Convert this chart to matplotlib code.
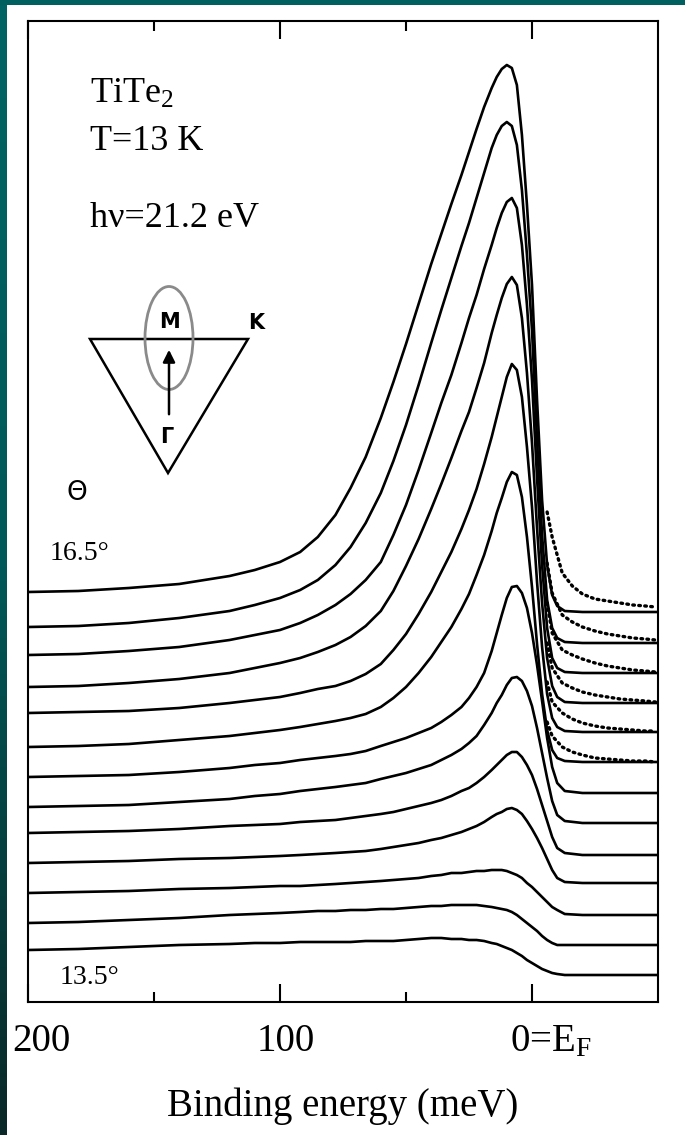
import numpy as np
import matplotlib.pyplot as plt
from matplotlib.patches import Ellipse, Polygon, Rectangle
from matplotlib.colors import LinearSegmentedColormap
from matplotlib.transforms import ScaledTranslation

plt.rcParams['font.family'] = ['Liberation Serif', 'DejaVu Serif']
plt.rcParams['mathtext.fontset'] = 'custom'
plt.rcParams['mathtext.rm'] = 'Liberation Serif'
plt.rcParams['mathtext.it'] = 'Liberation Serif:italic'

# Energia de ligacao (meV) - grade comum das curvas
energia = [200, 180, 160, 140, 120, 110, 100, 92, 85, 78,
           72, 66, 60, 55, 50, 45, 40, 36, 32, 28,
           25, 22, 19, 16, 14, 12, 10, 8, 6, 4,
           2, 0, -2, -4, -6, -8, -10, -13, -20, -35, -50]

# Altura de cada espectro acima da sua linha de base (ajuste), de 16.5 a 13.5 graus
h_16_50 = [20, 21, 24, 28, 36, 42, 50, 60, 75, 97,
           124, 155, 194, 230, 268, 308, 348, 378, 408, 437,
           460, 483, 505, 524, 535, 543, 547, 544, 527, 477,
           407, 327, 212, 112, 47, 17, 6, 1, 0, 0, 0]
h_16_25 = [16, 17, 20, 25, 32, 38, 45, 53, 63, 78,
           96, 120, 150, 182, 218, 258, 300, 333, 365, 397,
           420, 445, 470, 495, 508, 517, 521, 517, 498, 453,
           388, 313, 203, 108, 43, 15, 5, 1, 0, 0, 0]
h_16_00 = [18, 19, 22, 26, 33, 38, 43, 50, 58, 68,
           79, 93, 111, 138, 168, 203, 240, 270, 298, 330,
           355, 378, 404, 428, 445, 460, 471, 475, 465, 428,
           368, 293, 195, 108, 45, 15, 5, 1, 0, 0, 0]
h_15_75 = [16, 17, 20, 24, 30, 35, 40, 45, 51, 58,
           66, 77, 92, 112, 137, 164, 194, 219, 245, 272,
           291, 315, 340, 370, 388, 405, 419, 426, 418, 385,
           330, 260, 175, 100, 45, 17, 6, 1, 0, 0, 0]
h_15_50 = [19, 20, 21, 24, 29, 32, 35, 39, 43, 46,
           51, 58, 68, 82, 98, 118, 140, 160, 180, 203,
           222, 243, 268, 295, 315, 335, 355, 368, 362, 335,
           285, 225, 150, 85, 38, 14, 5, 1, 0, 0, 0]
h_15_25 = [15, 16, 18, 22, 26, 29, 32, 35, 38, 41,
           44, 48, 55, 64, 75, 89, 105, 120, 135, 153,
           168, 187, 207, 231, 249, 264, 280, 290, 287, 265,
           225, 175, 118, 68, 32, 12, 4, 1, 0, 0, 0]
h_15_00 = [16, 17, 18, 21, 25, 28, 30, 33, 35, 37,
           39, 42, 47, 51, 55, 60, 65, 71, 78, 86,
           95, 106, 120, 142, 160, 178, 195, 206, 207, 200,
           185, 160, 128, 92, 55, 26, 10, 2, 0, 0, 0]
h_14_75 = [16, 17, 18, 21, 24, 27, 29, 32, 34, 36,
           38, 40, 44, 47, 50, 54, 58, 63, 68, 74,
           80, 87, 98, 110, 120, 128, 138, 145, 146, 142,
           132, 117, 95, 70, 45, 22, 8, 2, 0, 0, 0]
h_14_50 = [22, 23, 24, 26, 29, 30, 31, 33, 34, 35,
           37, 39, 41, 43, 46, 49, 52, 55, 59, 64,
           67, 72, 78, 85, 90, 95, 100, 103, 103, 98,
           90, 80, 66, 50, 34, 18, 7, 2, 0, 0, 0]
h_14_25 = [20, 21, 22, 24, 25, 26, 27, 28, 29, 30,
           31, 32, 34, 36, 38, 40, 43, 45, 48, 51,
           54, 57, 61, 66, 69, 71, 74, 75, 73, 69,
           62, 54, 45, 35, 24, 13, 5, 1, 0, 0, 0]
h_14_00 = [22, 23, 24, 26, 27, 28, 29, 29, 30, 31,
           32, 33, 34, 35, 36, 37, 39, 40, 42, 42,
           43, 44, 44, 45, 45, 45, 44, 42, 40, 37,
           32, 28, 23, 18, 13, 8, 5, 1, 0, 0, 0]
h_13_75 = [22, 23, 25, 27, 30, 31, 32, 33, 34, 34,
           35, 35, 36, 36, 37, 38, 39, 39, 40, 40,
           40, 40, 39, 38, 37, 36, 35, 33, 30, 26,
           22, 18, 14, 9, 5, 2, 0, 0, 0, 0, 0]
h_13_50 = [25, 26, 28, 30, 31, 32, 32, 33, 33, 33,
           33, 34, 34, 34, 35, 36, 37, 37, 36, 36,
           35, 35, 34, 32, 31, 29, 27, 25, 22, 19,
           15, 12, 9, 6, 4, 2, 1, 0, 0, 0, 0]

# Deslocamento vertical de cada curva
offsets = [390, 359, 329, 299, 270, 240, 209, 179, 147, 119, 87, 57, 27]

# Pontos medidos acima do nivel de Fermi (cauda), curvas de cima
e_cauda = [-6, -8, -12, -16, -20, -25, -30, -35, -40, -45, -49]
t_16_50 = [100, 75, 39, 26, 18, 13, 11, 9, 7, 6, 5]
t_16_25 = [80, 50, 28, 21, 16, 12, 9, 7, 5, 4, 3]
t_16_00 = [70, 40, 23, 18, 14, 10, 7, 5, 3, 2, 1]
t_15_75 = [60, 35, 20, 15, 11, 8, 6, 4, 3, 2, 1]
t_15_50 = [50, 30, 19, 13, 9, 6, 4, 3, 2, 1, 1]
t_15_25 = [40, 26, 15, 10, 7, 4, 3, 2, 1, 1, 0]

curvas = [h_16_50, h_16_25, h_16_00, h_15_75, h_15_50, h_15_25, h_15_00,
          h_14_75, h_14_50, h_14_25, h_14_00, h_13_75, h_13_50]
caudas = [t_16_50, t_16_25, t_16_00, t_15_75, t_15_50, t_15_25]

W, H = 685, 1135
fig = plt.figure(figsize=(W / 100, H / 100), dpi=100)
ax = fig.add_axes([28 / W, 133 / H, 630 / W, 981 / H])

for off, h in zip(offsets, curvas):
    ax.plot(energia, np.array(h) + off, color='black', lw=1.9, solid_joinstyle='round')
for off, t in zip(offsets, caudas):
    ax.plot(e_cauda, np.array(t) + off, color='black', lw=2.4, ls=(0, (0.5, 1.3)),
            dash_capstyle='round')

ax.set_xlim(200, -50)
ax.set_ylim(0, 981)
ax.set_yticks([])
ax.set_xticks([200, 100, 0])
ax.set_xticklabels(['200', '100', r'0=E$_\mathrm{F}$'])
ax.set_xticks([150, 50], minor=True)
ax.tick_params(axis='x', which='both', direction='in', top=True, labelsize=28, pad=15)
ax.tick_params(axis='x', which='major', length=13, width=1.5)
ax.tick_params(axis='x', which='minor', length=7, width=1.5)
for lab, dx in zip(ax.get_xticklabels(), [13, 6, 19]):
    lab.set_transform(lab.get_transform() + ScaledTranslation(dx / 100, 0, fig.dpi_scale_trans))
ax.set_xlabel('Binding energy (meV)', fontsize=28, labelpad=20)
for s in ax.spines.values():
    s.set_linewidth(1.5)

# camada em pixels para textos, zona de Brillouin e moldura
ov = fig.add_axes([0, 0, 1, 1], zorder=5)
ov.axis('off')

grad = np.linspace(0, 1, 256).reshape(-1, 1)
cmap = LinearSegmentedColormap.from_list('borda', ['#006464', '#005858', '#0a2828'])
ov.imshow(grad, extent=[0, 7, H, 0], aspect='auto', cmap=cmap)
ov.add_patch(Rectangle((0, 0), W, 5, color='#005f5f', lw=0))

ov.text(90, 103, 'TiTe$_2$', fontsize=26, va='baseline')
ov.text(90, 150, 'T=13 K', fontsize=26, va='baseline')
ov.text(90, 227, 'hν=21.2 eV', fontsize=26, va='baseline')

ov.add_patch(Polygon([(90, 339), (248, 339), (168, 473)], closed=True, fill=False,
                     ec='black', lw=1.8))
ov.add_patch(Ellipse((169, 338), 48, 103, fill=False, ec='#8a8a8a', lw=2))
ov.annotate('', xy=(169, 347), xytext=(169, 417),
            arrowprops=dict(arrowstyle='-|>', lw=1.8, color='black', mutation_scale=18))
ov.text(170, 322, 'M', family='DejaVu Sans', weight='bold', fontsize=15, ha='center', va='center')
ov.text(256, 323, 'K', family='DejaVu Sans', weight='bold', fontsize=15, ha='center', va='center')
ov.text(167, 437, 'Γ', family='DejaVu Sans', weight='bold', fontsize=15, ha='center', va='center')
ov.text(77, 493, 'Θ', family='DejaVu Sans', fontsize=19, ha='center', va='center')

ov.text(50, 553, '16.5°', fontsize=20, va='center')
ov.text(60, 977, '13.5°', fontsize=20, va='center')

ov.set_xlim(0, W)
ov.set_ylim(H, 0)

fig.savefig('out.png', dpi=100)
